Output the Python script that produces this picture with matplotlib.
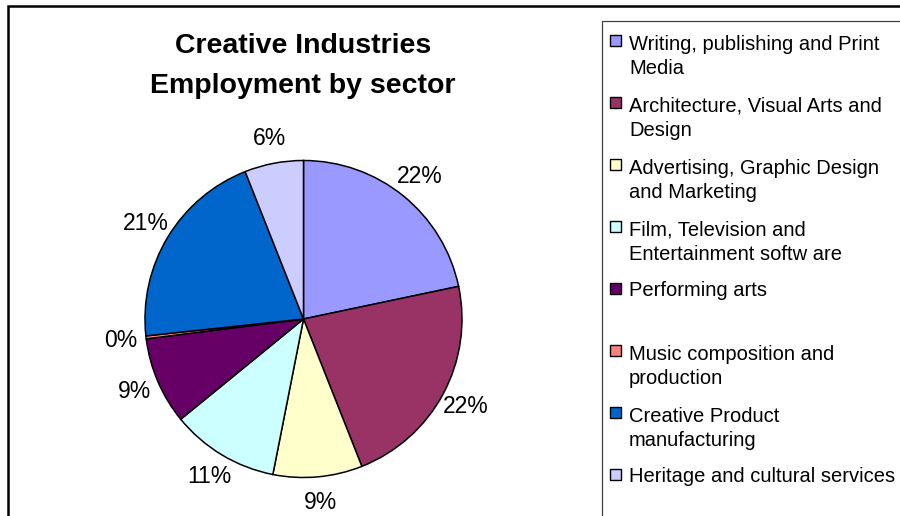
import matplotlib
matplotlib.use("Agg")
import matplotlib.pyplot as plt
from matplotlib.patches import Rectangle

plt.rcParams["font.family"] = ["Liberation Sans", "DejaVu Sans"]

# employment share by sector (percent)
sectors = [
    "Writing, publishing and Print\nMedia",
    "Architecture, Visual Arts and\nDesign",
    "Advertising, Graphic Design\nand Marketing",
    "Film, Television and\nEntertainment softw are",
    "Performing arts",
    "Music composition and\nproduction",
    "Creative Product\nmanufacturing",
    "Heritage and cultural services",
]
shares = [21.7, 22.3, 9.1, 11.0, 8.9, 0.3, 20.7, 6.0]
colors = ["#9999FF", "#993366", "#FFFFCC", "#CCFFFF",
          "#660066", "#FF8080", "#0066CC", "#CCCCFF"]

W, H = 900, 516
fig = plt.figure(figsize=(W / 100, H / 100), dpi=100)
fig.patch.set_facecolor("white")


def px(x, y):
    # pixel coords measured from top-left -> figure fraction
    return x / W, 1 - y / H


# outer chart frame (runs off the right and bottom edges)
fig.patches.append(Rectangle(px(8, 530), (W + 20) / W, 524 / H,
                             transform=fig.transFigure, fill=False,
                             edgecolor="black", linewidth=1.8))

# pie
cx, cy, r = 303.5, 319, 158.5
lim = 1.45
ax = fig.add_axes([(cx - r * lim) / W, (H - cy - r * lim) / H,
                   2 * r * lim / W, 2 * r * lim / H])
ax.pie(shares, colors=colors, startangle=90, counterclock=False,
       autopct="%.0f%%", pctdistance=1.16,
       textprops={"fontsize": 16.5, "color": "black"},
       wedgeprops={"edgecolor": "black", "linewidth": 1.1})
ax.set_xlim(-lim, lim)
ax.set_ylim(-lim, lim)
ax.set_aspect("equal")
ax.axis("off")

fig.text(*px(303, 66), "Creative Industries\nEmployment by sector",
         ha="center", va="center", fontsize=20.5, fontweight="bold",
         linespacing=1.72)

# legend box, drawn by hand to keep Excel's two-line slots
fig.patches.append(Rectangle(px(602, 540), 400 / W, 519 / H,
                             transform=fig.transFigure, fill=False,
                             edgecolor="#404040", linewidth=0.9))
top, pitch, line = 47.5, 62.0, 26.0
for i, (lab, col) in enumerate(zip(sectors, colors)):
    base = top + i * pitch
    fig.patches.append(Rectangle(px(610, base - 1.5), 11 / W, 11 / H,
                                 transform=fig.transFigure,
                                 facecolor=col, edgecolor="black",
                                 linewidth=1.0))
    # baseline alignment snaps to the last line of a wrapped label
    nlines = lab.count("\n") + 1
    fig.text(*px(629, base + (nlines - 1) * line), lab,
             ha="left", va="baseline", fontsize=14.5, linespacing=1.3)

fig.savefig("out.png", dpi=100)
